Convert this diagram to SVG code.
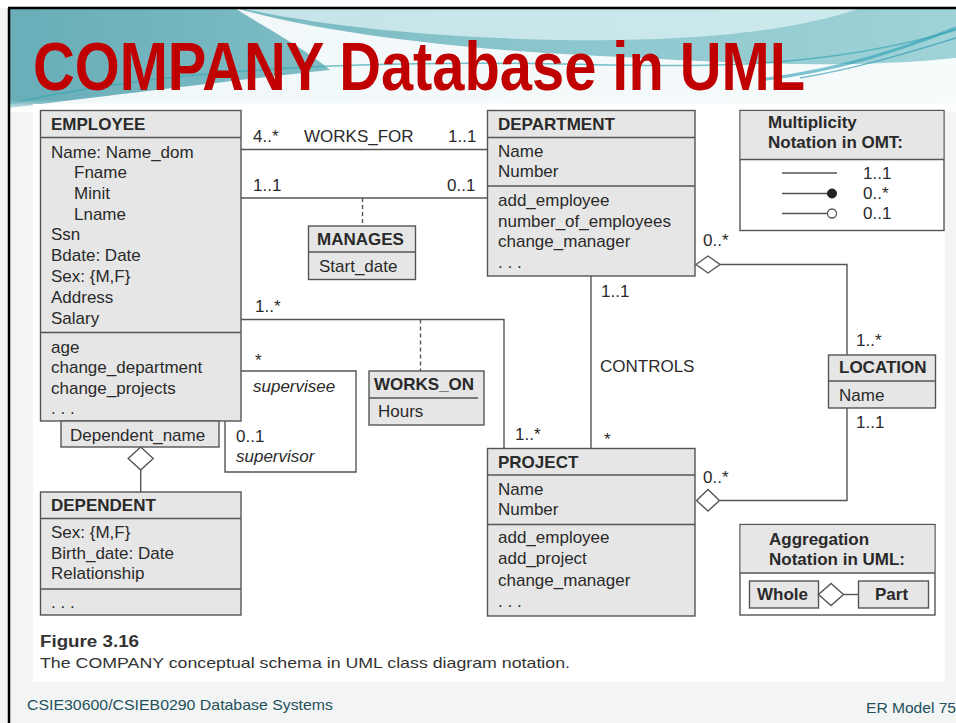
<svg xmlns="http://www.w3.org/2000/svg" width="956" height="723" viewBox="0 0 956 723">
<defs>
<linearGradient id="hdr" x1="0" y1="0" x2="1" y2="0">
<stop offset="0" stop-color="#68adb8"/>
<stop offset="0.5" stop-color="#88c4cb"/>
<stop offset="1" stop-color="#9fd3d8"/>
</linearGradient>
<linearGradient id="fade" x1="0" y1="0" x2="0" y2="1">
<stop offset="0" stop-color="#ffffff" stop-opacity="0"/>
<stop offset="1" stop-color="#ffffff" stop-opacity="1"/>
</linearGradient>
</defs>
<style>
.t{font-family:"Liberation Sans",Arial,Helvetica,sans-serif;font-size:17px;fill:#2a2a2a}
.b{font-weight:bold}
.i{font-style:italic}
.box{fill:#e6e6e6;stroke:#555;stroke-width:1.4}
.wbox{fill:#ffffff;stroke:#555;stroke-width:1.4}
.sep{stroke:#555;stroke-width:1.4}
.ln{fill:none;stroke:#555;stroke-width:1.4}
.dash{fill:none;stroke:#555;stroke-width:1.4;stroke-dasharray:4 3}
.dia{fill:#ffffff;stroke:#555;stroke-width:1.4}
.cap{font-family:"Liberation Sans",Arial,sans-serif;fill:#333}
.foot{font-family:"Liberation Sans",Arial,sans-serif;font-size:15px;fill:#24505c}
</style>

<!-- slide background -->
<rect x="0" y="0" width="956" height="723" fill="#f3f5f5"/>
<rect x="0" y="0" width="956" height="8" fill="#ffffff"/>
<rect x="8" y="8" width="948" height="100" fill="url(#hdr)"/>
<path d="M235,8 C330,35 470,50 600,56 C720,62 840,70 956,58 L956,108 L8,108 C90,98 200,84 330,70 C300,45 260,25 235,8 Z" fill="#ffffff" opacity="0.9"/>
<path d="M240,8 C330,28 450,38 560,40 C700,42 800,30 860,8 Z" fill="#d8eff1" opacity="0.8"/>
<path d="M8,104 C150,72 330,60 560,64 C700,67 820,70 956,30" fill="none" stroke="#3aa6b0" stroke-width="1.5" opacity="0.7"/>
<path d="M760,80 C840,70 900,50 956,28" fill="none" stroke="#2a9fb5" stroke-width="3" opacity="0.6"/>
<path d="M800,78 C860,68 910,52 956,38" fill="none" stroke="#1d8fb0" stroke-width="1.5" opacity="0.6"/>
<rect x="8" y="100" width="948" height="12" fill="url(#fade)"/>
<line x1="8" y1="8" x2="956" y2="8" stroke="#000" stroke-width="2.5"/>
<line x1="9" y1="8" x2="9" y2="723" stroke="#000" stroke-width="2.5"/>

<text x="33" y="90" font-family="Liberation Sans,Arial,sans-serif" font-weight="bold" font-size="68" fill="#c00000" textLength="772" lengthAdjust="spacingAndGlyphs">COMPANY Database in UML</text>

<!-- figure area -->
<rect x="33" y="104" width="912" height="578" fill="#ffffff"/>

<!-- connectors -->
<g id="connectors">
<line class="ln" x1="241" y1="149.5" x2="487" y2="149.5"/>
<line class="ln" x1="241" y1="198" x2="487" y2="198"/>
<line class="dash" x1="362.5" y1="198" x2="362.5" y2="226"/>
<polyline class="ln" points="241,319.5 504,319.5 504,448.5"/>
<line class="dash" x1="420.5" y1="319.5" x2="420.5" y2="371"/>
<polyline class="ln" points="241,371 356,371 356,472 225,472 225,421"/>
<line class="ln" x1="591" y1="276" x2="591" y2="448.5"/>
<polyline class="ln" points="720,264.5 847,264.5 847,355"/>
<polyline class="ln" points="720,500.5 847,500.5 847,408"/>
<line class="ln" x1="140.7" y1="470" x2="140.7" y2="492"/>
<polygon class="dia" points="696,264.5 708,256 720,264.5 708,273"/>
<polygon class="dia" points="696.5,500.5 708,489.5 719.5,500.5 708,511"/>
<polygon class="dia" points="140.7,447 153.2,458.5 140.7,470 128.2,458.5"/>
<text class="t" x="253" y="142">4..*</text>
<text class="t" x="304" y="142">WORKS_FOR</text>
<text class="t" x="448" y="142">1..1</text>
<text class="t" x="253" y="191">1..1</text>
<text class="t" x="447" y="191">0..1</text>
<text class="t" x="255" y="312">1..*</text>
<text class="t" x="255" y="366">*</text>
<text class="t i" x="253" y="392">supervisee</text>
<text class="t" x="236" y="442">0..1</text>
<text class="t i" x="236" y="462">supervisor</text>
<text class="t" x="601" y="297">1..1</text>
<text class="t" x="600" y="372">CONTROLS</text>
<text class="t" x="604" y="445">*</text>
<text class="t" x="515" y="440">1..*</text>
<text class="t" x="703" y="246">0..*</text>
<text class="t" x="703" y="483">0..*</text>
<text class="t" x="856" y="346">1..*</text>
<text class="t" x="856" y="428">1..1</text>
</g>

<!-- EMPLOYEE -->
<g id="employee">
<rect class="box" x="40.5" y="110.5" width="200.5" height="310.5"/>
<line class="sep" x1="40.5" y1="137.5" x2="241" y2="137.5"/>
<line class="sep" x1="40.5" y1="332.5" x2="241" y2="332.5"/>
<text class="t b" x="51" y="130">EMPLOYEE</text>
<text class="t" x="51" y="158">Name: Name_dom</text>
<text class="t" x="74" y="178">Fname</text>
<text class="t" x="74" y="199">Minit</text>
<text class="t" x="74" y="220">Lname</text>
<text class="t" x="51" y="240">Ssn</text>
<text class="t" x="51" y="261">Bdate: Date</text>
<text class="t" x="51" y="282">Sex: {M,F}</text>
<text class="t" x="51" y="303">Address</text>
<text class="t" x="51" y="324">Salary</text>
<text class="t" x="51" y="353">age</text>
<text class="t" x="51" y="373">change_department</text>
<text class="t" x="51" y="394">change_projects</text>
<text class="t" x="51" y="414">. . .</text>
</g>

<!-- Dependent_name qualifier -->
<g id="dependent-name">
<rect class="box" x="61" y="421" width="158" height="26"/>
<text class="t" x="70" y="441">Dependent_name</text>
</g>

<!-- DEPENDENT -->
<g id="dependent">
<rect class="box" x="40.5" y="492" width="200.5" height="123"/>
<line class="sep" x1="40.5" y1="518.5" x2="241" y2="518.5"/>
<line class="sep" x1="40.5" y1="589" x2="241" y2="589"/>
<text class="t b" x="51" y="511">DEPENDENT</text>
<text class="t" x="51" y="538">Sex: {M,F}</text>
<text class="t" x="51" y="559">Birth_date: Date</text>
<text class="t" x="51" y="579">Relationship</text>
<text class="t" x="51" y="608">. . .</text>
</g>

<!-- MANAGES -->
<g id="manages">
<rect class="box" x="308.5" y="226" width="107" height="53.5"/>
<line class="sep" x1="308.5" y1="252" x2="415.5" y2="252"/>
<text class="t b" x="317" y="245">MANAGES</text>
<text class="t" x="319" y="272">Start_date</text>
</g>

<!-- WORKS_ON -->
<g id="works-on">
<rect class="box" x="369" y="371" width="115" height="54"/>
<line class="sep" x1="369" y1="398" x2="478" y2="398"/>
<text class="t b" x="374" y="390">WORKS_ON</text>
<text class="t" x="378" y="417">Hours</text>
</g>

<!-- DEPARTMENT -->
<g id="department">
<rect class="box" x="487.5" y="110.5" width="207.5" height="165.5"/>
<line class="sep" x1="487.5" y1="137.5" x2="695" y2="137.5"/>
<line class="sep" x1="487.5" y1="186" x2="695" y2="186"/>
<text class="t b" x="498" y="130">DEPARTMENT</text>
<text class="t" x="498" y="157">Name</text>
<text class="t" x="498" y="177">Number</text>
<text class="t" x="498" y="206">add_employee</text>
<text class="t" x="498" y="227">number_of_employees</text>
<text class="t" x="498" y="247">change_manager</text>
<text class="t" x="498" y="268">. . .</text>
</g>

<!-- PROJECT -->
<g id="project">
<rect class="box" x="487.5" y="448.5" width="207.5" height="167.5"/>
<line class="sep" x1="487.5" y1="475" x2="695" y2="475"/>
<line class="sep" x1="487.5" y1="524.5" x2="695" y2="524.5"/>
<text class="t b" x="498" y="468">PROJECT</text>
<text class="t" x="498" y="495">Name</text>
<text class="t" x="498" y="515">Number</text>
<text class="t" x="498" y="543">add_employee</text>
<text class="t" x="498" y="564">add_project</text>
<text class="t" x="498" y="586">change_manager</text>
<text class="t" x="498" y="607">. . .</text>
</g>

<!-- LOCATION -->
<g id="location">
<rect class="box" x="828.5" y="355" width="107" height="53"/>
<line class="sep" x1="828.5" y1="381" x2="935.5" y2="381"/>
<text class="t b" x="839" y="373">LOCATION</text>
<text class="t" x="839" y="401">Name</text>
</g>

<!-- Multiplicity legend -->
<g id="multiplicity-legend">
<rect class="wbox" x="740" y="110.5" width="204" height="120"/>
<rect x="740.7" y="111.2" width="202.6" height="48.3" fill="#e6e6e6"/>
<line class="sep" x1="740" y1="159.5" x2="944" y2="159.5"/>
<text class="t b" x="768" y="128">Multiplicity</text>
<text class="t b" x="768" y="148">Notation in OMT:</text>
<line class="ln" x1="782" y1="173" x2="837" y2="173"/>
<text class="t" x="863" y="179">1..1</text>
<line class="ln" x1="782" y1="193.5" x2="828" y2="193.5"/>
<circle cx="832" cy="193.5" r="4.5" fill="#222" stroke="#222" stroke-width="1"/>
<text class="t" x="863" y="199">0..*</text>
<line class="ln" x1="782" y1="213.5" x2="827.5" y2="213.5"/>
<circle cx="832" cy="213.5" r="4.5" fill="#fff" stroke="#555" stroke-width="1.3"/>
<text class="t" x="863" y="219">0..1</text>
</g>

<!-- Aggregation legend -->
<g id="aggregation-legend">
<rect class="wbox" x="740" y="524.5" width="195" height="90.5"/>
<rect x="740.7" y="525.2" width="193.6" height="47.5" fill="#e6e6e6"/>
<line class="sep" x1="740" y1="573" x2="935" y2="573"/>
<text class="t b" x="769" y="545">Aggregation</text>
<text class="t b" x="769" y="565">Notation in UML:</text>
<rect class="box" x="749.5" y="581" width="69" height="27"/>
<text class="t b" x="757" y="600">Whole</text>
<polygon class="dia" points="818.5,594.5 831,583.5 843.5,594.5 831,605.5"/>
<line class="ln" x1="843.5" y1="594.5" x2="858.5" y2="594.5"/>
<rect class="box" x="858.5" y="581" width="70" height="27"/>
<text class="t b" x="875" y="600">Part</text>
</g>

<!-- caption -->
<text class="cap" x="40" y="647" font-size="16" font-weight="bold" fill="#222" textLength="99" lengthAdjust="spacingAndGlyphs">Figure 3.16</text>
<text class="cap" x="40" y="668" font-size="15" fill="#444" textLength="530" lengthAdjust="spacingAndGlyphs">The COMPANY conceptual schema in UML class diagram notation.</text>

<!-- footer -->
<text class="foot" x="27" y="710" textLength="306" lengthAdjust="spacingAndGlyphs">CSIE30600/CSIEB0290 Database Systems</text>
<text class="foot" x="866" y="713" textLength="90" lengthAdjust="spacingAndGlyphs">ER Model 75</text>
</svg>
